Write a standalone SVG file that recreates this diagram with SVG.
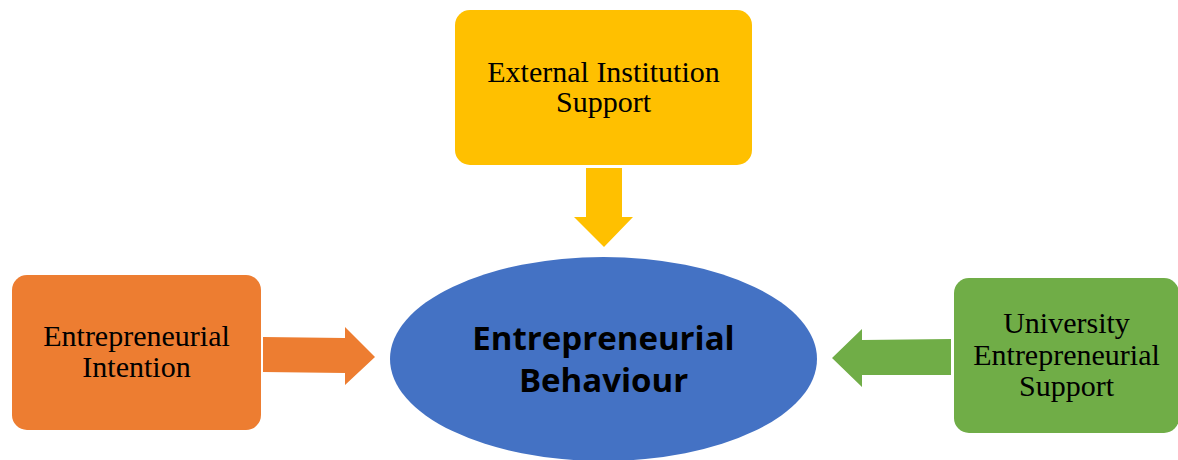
<svg xmlns="http://www.w3.org/2000/svg" width="1178" height="460" viewBox="0 0 1178 460">
  <style>
    .box-text { font-family: "Liberation Serif", "Times New Roman", serif; font-size: 30px; fill: #000; text-anchor: middle; }
    .core-text { font-family: "Open Sans", "Liberation Sans", sans-serif; font-weight: bold; font-size: 33px; fill: #000; text-anchor: middle; }
    .yellow { fill: #FFC000; }
    .orange { fill: #ED7D31; }
    .green { fill: #70AD47; }
    .blue { fill: #4472C4; }
  </style>
  <rect width="1178" height="460" fill="#ffffff"/>

  <g id="external-institution-support">
    <rect class="yellow" x="455" y="10" width="297" height="155" rx="15" ry="15"/>
    <text class="box-text" x="603.5" y="82">External Institution</text>
    <text class="box-text" x="603.5" y="112">Support</text>
  </g>

  <g id="entrepreneurial-intention">
    <rect class="orange" x="12" y="275" width="249" height="155" rx="15" ry="15"/>
    <text class="box-text" x="136.5" y="346">Entrepreneurial</text>
    <text class="box-text" x="136.5" y="377">Intention</text>
  </g>

  <g id="university-entrepreneurial-support">
    <rect class="green" x="954" y="278" width="225" height="155" rx="15" ry="15"/>
    <text class="box-text" x="1066.5" y="333">University</text>
    <text class="box-text" x="1066.5" y="365">Entrepreneurial</text>
    <text class="box-text" x="1066.5" y="396">Support</text>
  </g>

  <g id="entrepreneurial-behaviour">
    <ellipse class="blue" cx="603.5" cy="359" rx="213.5" ry="102"/>
    <text class="core-text" x="603.5" y="350">Entrepreneurial</text>
    <text class="core-text" x="603.5" y="392">Behaviour</text>
  </g>

  <g id="connectors">
    <!-- block arrows into the central node -->
    <polygon class="yellow" points="586,168 622,168 622,217 633,217 604,247 574,217 586,217"/>
    <polygon class="orange" points="263,337 345,338 345,327 375,357 345,385 345,373 263,372"/>
    <polygon class="green" points="951,339 862,340 862,329 832,358 862,387 862,375 951,375"/>
  </g>
</svg>
